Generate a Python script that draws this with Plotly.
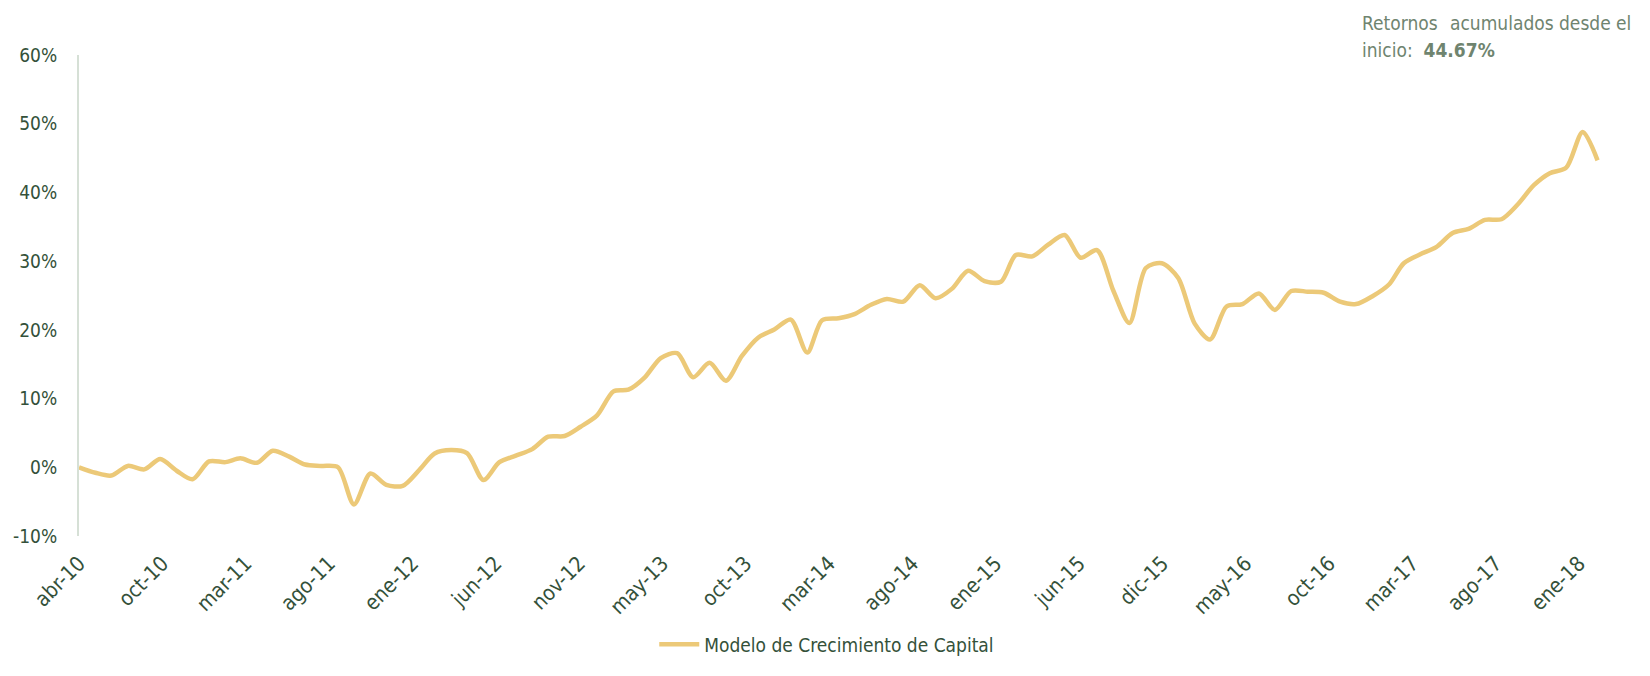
import pandas as pd
import plotly.graph_objects as go

# ---- data ----
start_date = "2010-04-30"
end_date = "2018-02-28"
dates = pd.date_range(start_date, end_date, freq="ME")

returns_pct = [
    0.0, -0.8, -1.2, 0.2, -0.3, 1.2, -0.5, -1.75, 0.85, 0.75,
    1.3, 0.65, 2.4, 1.55, 0.4, 0.2, 0.0, -5.4, -0.9, -2.55,
    -2.7, -0.4, 2.0, 2.5, 2.05, -1.85, 0.75, 1.7, 2.65, 4.45,
    4.55, 5.9, 7.55, 11.05, 11.3, 13.1, 15.9, 16.6, 13.1, 15.2,
    12.6, 16.2, 18.9, 20.05, 21.5, 16.7, 21.4, 21.7, 22.3, 23.65,
    24.5, 24.1, 26.5, 24.6, 26.0, 28.6, 27.1, 27.0, 30.9, 30.7,
    32.4, 33.8, 30.5, 31.6, 25.65, 21.0, 29.0, 29.7, 27.55, 20.9,
    18.6, 23.4, 23.75, 25.3, 22.9, 25.65, 25.55, 25.4, 24.1, 23.75,
    24.9, 26.6, 29.7, 31.0, 32.05, 34.1, 34.7, 36.0, 36.1, 38.2,
    41.05, 42.8, 43.6, 48.8, 44.67,
]
values = [v / 100 for v in returns_pct]

series_name = "Modelo de Crecimiento de Capital"

x_tick_labels = [
    "abr-10", "oct-10", "mar-11", "ago-11", "ene-12", "jun-12", "nov-12",
    "may-13", "oct-13", "mar-14", "ago-14", "ene-15", "jun-15", "dic-15",
    "may-16", "oct-16", "mar-17", "ago-17", "ene-18",
]
x_tick_step_days = 157

y_tick_vals = [-0.1, 0, 0.1, 0.2, 0.3, 0.4, 0.5, 0.6]
y_tick_text = ["-10%", "0%", "10%", "20%", "30%", "40%", "50%", "60%"]

final_return_text = "44.67%"

# ---- styling ----
FONT = "DejaVu Sans Condensed, DejaVu Sans, sans-serif"
DARK_GREEN = "#34513a"
GRAY_GREEN = "#6f846f"
GOLD = "#ecc978"

OFF = 8  # default page body margin
W, H = 1650 - OFF, 676 - OFF
ML, MT = 79 - OFF, 55 - OFF
PLOT_R, PLOT_B = 1614.5 - OFF, 547 - OFF
MR, MB = W - PLOT_R, H - PLOT_B
PW = W - ML - MR
PH = H - MT - MB

tick_vals = [pd.Timestamp(start_date) + pd.Timedelta(days=k * x_tick_step_days)
             for k in range(len(x_tick_labels))]

fig = go.Figure()
fig.add_trace(go.Scatter(
    x=dates, y=values, mode="lines", name=series_name,
    line=dict(color=GOLD, width=4.5, shape="spline", smoothing=0.8),
))


def px_x(px):
    return (px - OFF - ML) / PW


def px_y(py):
    return (PLOT_B - (py - OFF)) / PH


annots = []
for word, px, anchor in [("Retornos", 1360, "left"), ("acumulados", 1448, "left"),
                         ("desde", 1557, "left"), ("el", 1634, "right")]:
    annots.append(dict(
        text=word, x=px_x(px), y=px_y(22), xref="paper", yref="paper",
        xanchor=anchor, yanchor="middle", showarrow=False,
        font=dict(family=FONT, size=19, color=GRAY_GREEN),
    ))
annots.append(dict(
    text="inicio:  <b>" + final_return_text + "</b>", x=px_x(1360), y=px_y(50),
    xref="paper", yref="paper", xanchor="left", yanchor="middle", showarrow=False,
    font=dict(family=FONT, size=19, color=GRAY_GREEN),
))

fig.update_layout(
    width=W, height=H,
    margin=dict(l=ML, r=MR, t=MT, b=MB, pad=0),
    plot_bgcolor="white", paper_bgcolor="white",
    font=dict(family=FONT, color=DARK_GREEN),
    showlegend=True,
    legend=dict(
        orientation="h", x=px_x(827), y=px_y(658), xanchor="center", yanchor="middle",
        font=dict(family=FONT, size=19, color=DARK_GREEN),
        itemwidth=40,
    ),
    annotations=annots,
)

fig.update_xaxes(
    type="date", automargin=False,
    range=[pd.Timestamp(start_date), pd.Timestamp("2018-03-31")],
    tickmode="array", tickvals=tick_vals, ticktext=x_tick_labels,
    tickangle=-45, showgrid=False, zeroline=False, showline=False,
    ticks="", ticklabelstandoff=10,
    tickfont=dict(family=FONT, size=21, color=DARK_GREEN),
)
fig.update_yaxes(
    range=[-0.1, 0.6], tickmode="array", tickvals=y_tick_vals, ticktext=y_tick_text,
    automargin=False,
    showgrid=False, zeroline=False, showline=True, linecolor="#d6e0d6", linewidth=2,
    ticks="", ticklabelstandoff=16,
    tickfont=dict(family=FONT, size=19, color=DARK_GREEN),
)

fig.write_html("out.html")
